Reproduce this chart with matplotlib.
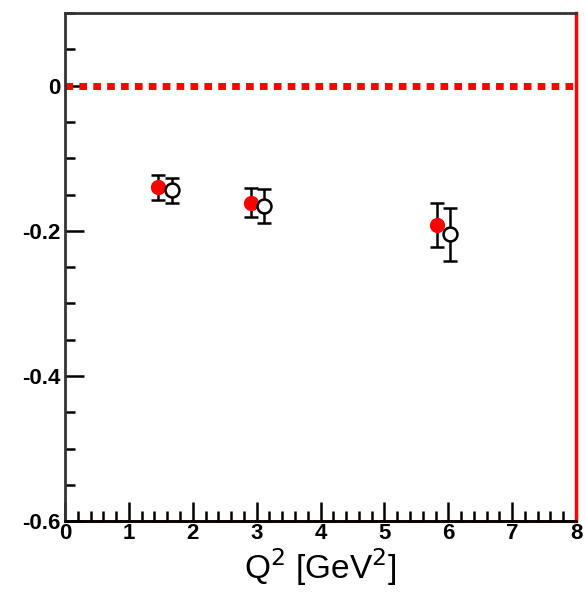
import matplotlib
matplotlib.use("Agg")
import matplotlib.pyplot as plt
from matplotlib.ticker import MultipleLocator

# Data
q2_filled = [1.45, 2.91, 5.83]
val_filled = [-0.140, -0.161, -0.192]
err_filled = [0.017, 0.020, 0.030]

q2_open = [1.67, 3.11, 6.02]
val_open = [-0.144, -0.166, -0.205]
err_open = [0.017, 0.023, 0.036]

ref_x = [0, 8]
ref_y = [0, 0]

x_ticks = [0, 1, 2, 3, 4, 5, 6, 7, 8]
y_ticks = [-0.6, -0.4, -0.2, 0]
y_tick_labels = ["-0.6", "-0.4", "-0.2", "0"]

plt.rcParams['font.family'] = ['Liberation Sans', 'DejaVu Sans']

fig = plt.figure(figsize=(5.86, 5.93), dpi=100)
ax = fig.add_axes([0.111, 0.121, 0.872, 0.857])

ax.plot(ref_x, ref_y, color='red', lw=5, linestyle=(0, (1.1, 0.9)), zorder=2,
        solid_capstyle='butt', dash_capstyle='butt')

ax.errorbar(q2_filled, val_filled, yerr=err_filled, fmt='o', color='black',
            markerfacecolor='red', markeredgecolor='red', markersize=10,
            elinewidth=1.8, capsize=5, capthick=1.8, zorder=4)
ax.errorbar(q2_open, val_open, yerr=err_open, fmt='o', color='black',
            markerfacecolor='white', markeredgecolor='black', markeredgewidth=1.8,
            markersize=10, elinewidth=1.8, capsize=5, capthick=1.8, zorder=5)

ax.set_xlim(0, 8)
ax.set_ylim(-0.6, 0.1)
ax.set_xticks(x_ticks)
ax.set_yticks(y_ticks)
ax.set_yticklabels(y_tick_labels)
ax.xaxis.set_minor_locator(MultipleLocator(0.2))
ax.yaxis.set_minor_locator(MultipleLocator(0.05))

ax.tick_params(axis='both', which='major', direction='in', length=14, width=1.8,
               labelsize=16, colors='black')
ax.tick_params(axis='both', which='minor', direction='in', length=7, width=1.8)
ax.tick_params(top=False, right=False, which='both')
ax.tick_params(axis='x', pad=1)
ax.tick_params(axis='y', pad=3)
for lab in ax.get_xticklabels() + ax.get_yticklabels():
    lab.set_fontweight('bold')

for s in ['left', 'top']:
    ax.spines[s].set_linewidth(2)
    ax.spines[s].set_color('#333333')
ax.spines['bottom'].set_color('black')
ax.spines['bottom'].set_linewidth(2)
ax.spines['right'].set_color('red')
ax.spines['right'].set_linewidth(2.5)
ax.axhline(-0.6, color='red', lw=2, zorder=1, clip_on=False)

ax.set_xlabel(r"Q$^{2}$ [GeV$^{2}$]", fontsize=24, labelpad=2)

fig.savefig("out.png", dpi=100)
